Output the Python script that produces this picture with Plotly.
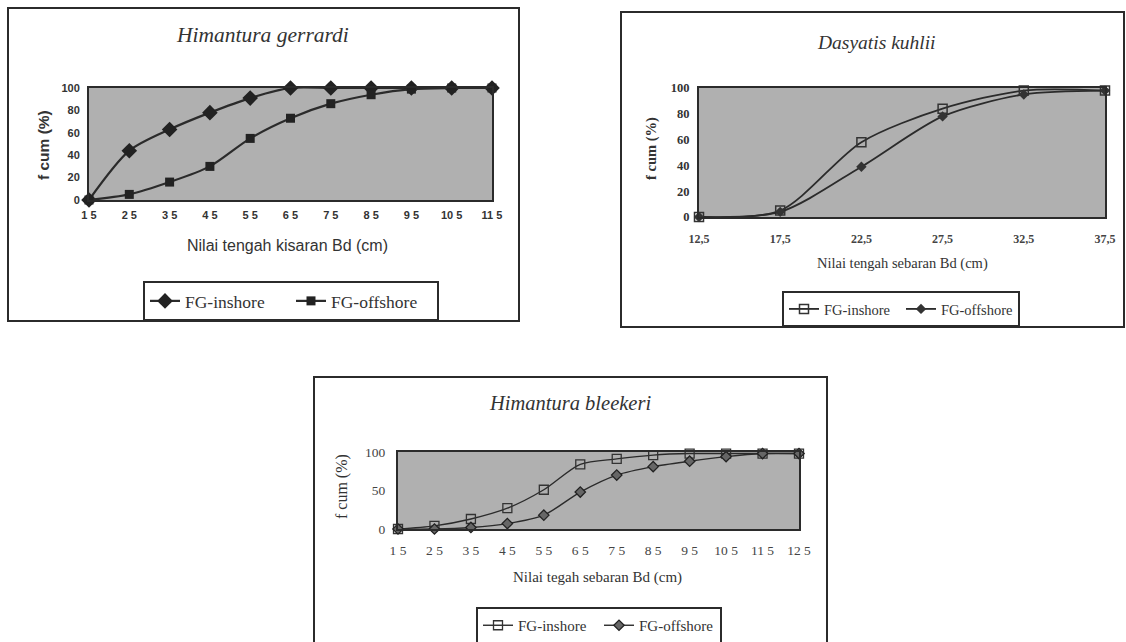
import plotly.graph_objects as go

W, H = 1126, 642

# ---------- data ----------
# Panel 1: Himantura gerrardi
g_x = [15, 25, 35, 45, 55, 65, 75, 85, 95, 105, 115]
g_inshore = [0, 44, 63, 78, 91, 100, 100, 100, 100, 100, 100]
g_offshore = [0, 5, 16, 30, 55, 73, 86, 94, 99, 100, 100]
g_ticks = ["1 5", "2 5", "3 5", "4 5", "5 5", "6 5", "7 5", "8 5", "9 5", "10 5", "11 5"]

# Panel 2: Dasyatis kuhlii
d_x = [12.5, 17.5, 22.5, 27.5, 32.5, 37.5]
d_inshore = [0, 5, 58, 84, 98, 98]
d_offshore = [0, 4, 39, 78, 95, 98]
d_ticks = ["12,5", "17,5", "22,5", "27,5", "32,5", "37,5"]

# Panel 3: Himantura bleekeri
b_x = [15, 25, 35, 45, 55, 65, 75, 85, 95, 105, 115, 125]
b_inshore = [0, 4, 13, 27, 51, 84, 91, 96, 98, 98, 98, 98]
b_offshore = [0, 0, 2, 7, 18, 48, 70, 81, 88, 94, 98, 98]
b_ticks = ["1 5", "2 5", "3 5", "4 5", "5 5", "6 5", "7 5", "8 5", "9 5", "10 5", "11 5", "12 5"]


def px(x):
    return x / W


def py(y):
    return 1 - y / H


SERIF = "Liberation Serif, Times New Roman, serif"
SANS = "Liberation Sans, Arial, sans-serif"
INK = "#2b2b2b"
BG = "#b0b0b0"

fig = go.Figure()

# ---- panel 1 traces ----
fig.add_trace(go.Scatter(x=g_x, y=g_inshore, name="FG-inshore", mode="lines+markers",
                         line=dict(color=INK, width=2.2, shape="spline", smoothing=0.8),
                         marker=dict(symbol="diamond", size=12, color="#222"),
                         xaxis="x", yaxis="y", legend="legend", cliponaxis=False))
fig.add_trace(go.Scatter(x=g_x, y=g_offshore, name="FG-offshore", mode="lines+markers",
                         line=dict(color=INK, width=2.2, shape="spline", smoothing=0.8),
                         marker=dict(symbol="square", size=9, color="#222"),
                         xaxis="x", yaxis="y", legend="legend", cliponaxis=False))

# ---- panel 2 traces ----
fig.add_trace(go.Scatter(x=d_x, y=d_inshore, name="FG-inshore", mode="lines+markers",
                         line=dict(color=INK, width=1.8, shape="spline", smoothing=0.8),
                         marker=dict(symbol="square-open", size=9, color="#333", line=dict(width=1.5)),
                         xaxis="x2", yaxis="y2", legend="legend2", cliponaxis=False))
fig.add_trace(go.Scatter(x=d_x, y=d_offshore, name="FG-offshore", mode="lines+markers",
                         line=dict(color=INK, width=1.8, shape="spline", smoothing=0.8),
                         marker=dict(symbol="diamond", size=8, color="#333"),
                         xaxis="x2", yaxis="y2", legend="legend2", cliponaxis=False))

# ---- panel 3 traces ----
fig.add_trace(go.Scatter(x=b_x, y=b_inshore, name="FG-inshore", mode="lines+markers",
                         line=dict(color=INK, width=1.4, shape="spline", smoothing=0.8),
                         marker=dict(symbol="square-open", size=9, color="#333", line=dict(width=1.3)),
                         xaxis="x3", yaxis="y3", legend="legend3", cliponaxis=False))
fig.add_trace(go.Scatter(x=b_x, y=b_offshore, name="FG-offshore", mode="lines+markers",
                         line=dict(color=INK, width=1.4, shape="spline", smoothing=0.8),
                         marker=dict(symbol="diamond", size=8, color="#666", line=dict(width=1.3, color="#222")),
                         xaxis="x3", yaxis="y3", legend="legend3", cliponaxis=False))

axis_common = dict(showgrid=False, zeroline=False, showline=True, linecolor=INK,
                   linewidth=2, mirror=True, ticks="", fixedrange=True, automargin=False)

legend_common = dict(orientation="h", bgcolor="white", bordercolor=INK, borderwidth=2,
                     xanchor="left", yanchor="top", itemclick=False, tracegroupgap=0,
                     entrywidthmode="pixels")

fig.update_layout(
    width=W, height=H,
    margin=dict(l=0, r=0, t=0, b=0, pad=0, autoexpand=False),
    paper_bgcolor="white",
    plot_bgcolor=BG,
    xaxis=dict(domain=[px(89), px(492)], range=[15, 115], tickvals=g_x, ticktext=g_ticks,
               tickfont=dict(family=SANS, size=11, color="#333", weight="bold"), anchor="y",
               ticklabelstandoff=4, **axis_common),
    yaxis=dict(domain=[py(200), py(88)], range=[0, 100], tickvals=[0, 20, 40, 60, 80, 100],
               tickfont=dict(family=SANS, size=11, color="#333", weight="bold"), anchor="x",
               ticklabelstandoff=5, **axis_common),
    xaxis2=dict(domain=[px(699), px(1105)], range=[12.5, 37.5], tickvals=d_x, ticktext=d_ticks,
                tickfont=dict(family=SERIF, size=12, color="#444", weight="bold"), anchor="y2",
                ticklabelstandoff=10, **axis_common),
    yaxis2=dict(domain=[py(217), py(88)], range=[0, 100], tickvals=[0, 20, 40, 60, 80, 100],
                tickfont=dict(family=SERIF, size=12.5, color="#333", weight="bold"), anchor="x2",
                ticklabelstandoff=5, **axis_common),
    xaxis3=dict(domain=[px(398), px(799)], range=[15, 125], tickvals=b_x, ticktext=b_ticks,
                tickfont=dict(family=SERIF, size=13.5, color="#444"), anchor="y3",
                ticklabelstandoff=8, **axis_common),
    yaxis3=dict(domain=[py(529), py(452)], range=[0, 100], tickvals=[0, 50, 100],
                tickfont=dict(family=SERIF, size=13.5, color="#444"), anchor="x3",
                ticklabelstandoff=8, **axis_common),
    legend=dict(x=px(143), y=py(281), font=dict(family=SERIF, size=17.5, color="#333"),
                entrywidth=101, **legend_common),
    legend2=dict(x=px(782), y=py(291), font=dict(family=SERIF, size=14.5, color="#333"),
                 entrywidth=72, **legend_common),
    legend3=dict(x=px(476), y=py(607), font=dict(family=SERIF, size=15, color="#333"),
                 entrywidth=76, **legend_common),
)

# panel frames
frames = [(8, 8, 519, 321), (621, 12, 1124, 327), (314, 377, 827, 650)]
for x0, y0, x1, y1 in frames:
    fig.add_shape(type="rect", xref="paper", yref="paper",
                  x0=px(x0), x1=px(x1), y0=py(y1), y1=py(y0),
                  line=dict(color=INK, width=2), fillcolor="rgba(0,0,0,0)", layer="below")

annotations = [
    # titles
    dict(x=px(262), y=py(35), text="<i>Himantura gerrardi</i>",
         font=dict(family=SERIF, size=21.5, color="#333")),
    dict(x=px(876), y=py(42), text="<i>Dasyatis kuhlii</i>",
         font=dict(family=SERIF, size=19.5, color="#333")),
    dict(x=px(570), y=py(403), text="<i>Himantura bleekeri</i>",
         font=dict(family=SERIF, size=20.5, color="#333")),
    # x-axis titles
    dict(x=px(287), y=py(245), text="Nilai tengah kisaran Bd (cm)",
         font=dict(family=SANS, size=16, color="#333")),
    dict(x=px(902), y=py(263), text="Nilai tengah sebaran Bd (cm)",
         font=dict(family=SERIF, size=14.5, color="#333")),
    dict(x=px(597), y=py(577), text="Nilai tegah sebaran Bd (cm)",
         font=dict(family=SERIF, size=15, color="#333")),
    # y-axis titles
    dict(x=px(44), y=py(145), text="<b>f cum (%)</b>", textangle=-90,
         font=dict(family=SANS, size=15.5, color="#333")),
    dict(x=px(652), y=py(149), text="<b>f cum (%)</b>", textangle=-90,
         font=dict(family=SERIF, size=14.5, color="#333")),
    dict(x=px(342), y=py(487), text="f cum (%)", textangle=-90,
         font=dict(family=SERIF, size=16, color="#333")),
]
for a in annotations:
    fig.add_annotation(xref="paper", yref="paper", showarrow=False,
                       xanchor="center", yanchor="middle", **a)

fig.write_html("out.html", config={"displayModeBar": False},
               post_script="document.body.style.margin='0';document.body.style.overflow='hidden';")
